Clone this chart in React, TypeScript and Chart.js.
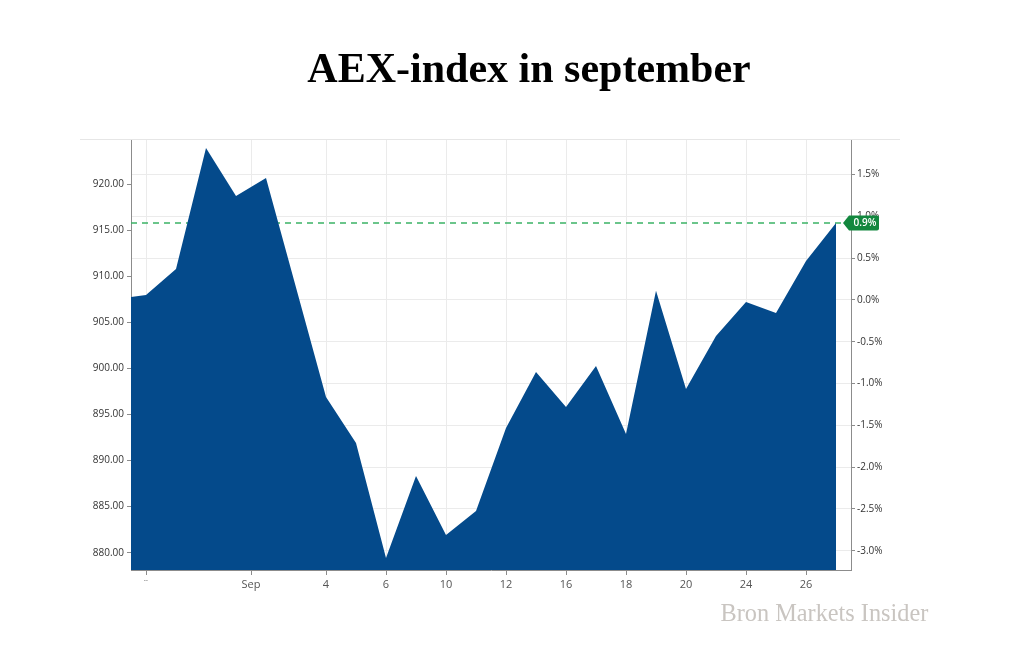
import React, { useEffect, useRef } from "react";
import { Chart, registerables } from "chart.js";

Chart.register(...registerables);

// Trading-session positions (session 5 has no visible vertex in the picture)
const sessionIndex = [-0.5, 0, 1, 2, 3, 4, 6, 7, 8, 9, 10, 11, 12, 13, 14, 15, 16, 17, 18, 19, 20, 21, 22, 23];
const closeValues = [
  907.76, 907.98, 910.8, 923.94, 918.73, 920.69, 896.91, 891.91, 879.42, 888.33, 881.92, 884.53,
  893.54, 899.62, 895.82, 900.27, 892.89, 908.44, 897.78, 903.53, 907.22, 906.03, 911.67, 915.8,
];
const previousClose = 907.44;

const xTickPositions = [0, 3.5, 6, 8, 10, 12, 14, 16, 18, 20, 22];
const xTickLabels = ["¨", "Sep", "4", "6", "10", "12", "16", "18", "20", "24", "26"];
const priceTicks = [880, 885, 890, 895, 900, 905, 910, 915, 920];
const percentTicks = [-3, -2.5, -2, -1.5, -1, -0.5, 0, 0.5, 1, 1.5];
const priceMin = 878.12;
const priceMax = 924.81;

const titleText = "AEX-index in september";
const sourceText = "Bron Markets Insider";

const AREA_COLOR = "rgb(4,74,139)";
const AXIS_COLOR = "#8c8c8c";
const GRID_COLOR = "#ebebeb";
const SANS = "'Open Sans', 'Liberation Sans', sans-serif";

const toPct = (v: number) => (v / previousClose - 1) * 100;

const overlayPlugin = {
  id: "overlay",
  beforeDraw(chart: any) {
    const ctx = chart.ctx;
    ctx.save();
    ctx.strokeStyle = "#e6e6e6";
    ctx.lineWidth = 1;
    ctx.beginPath();
    ctx.moveTo(80, chart.chartArea.top - 0.5);
    ctx.lineTo(900, chart.chartArea.top - 0.5);
    ctx.stroke();
    ctx.restore();
  },
  beforeDatasetsDraw(chart: any) {
    const ctx = chart.ctx;
    const area = chart.chartArea;
    const last = closeValues[closeValues.length - 1];
    const y = Math.round(chart.scales.y.getPixelForValue(last));
    ctx.save();
    ctx.strokeStyle = "#3bb266";
    ctx.lineWidth = 1.5;
    ctx.setLineDash([6, 5]);
    ctx.beginPath();
    ctx.moveTo(area.left, y);
    ctx.lineTo(area.right - 8, y);
    ctx.stroke();
    ctx.restore();
  },
  afterDraw(chart: any) {
    const ctx = chart.ctx;
    const area = chart.chartArea;
    const last = closeValues[closeValues.length - 1];
    const y = chart.scales.y.getPixelForValue(last);
    // badge
    const tip = area.right - 8;
    const left = tip + 6;
    const right = tip + 36;
    const top = y - 7.5;
    const bottom = y + 7.5;
    const r = 2;
    ctx.save();
    ctx.fillStyle = "#12873e";
    ctx.beginPath();
    ctx.moveTo(tip, y);
    ctx.lineTo(left, top);
    ctx.lineTo(right - r, top);
    ctx.quadraticCurveTo(right, top, right, top + r);
    ctx.lineTo(right, bottom - r);
    ctx.quadraticCurveTo(right, bottom, right - r, bottom);
    ctx.lineTo(left, bottom);
    ctx.closePath();
    ctx.fill();
    ctx.fillStyle = "#ffffff";
    ctx.font = `600 10px ${SANS}`;
    ctx.textAlign = "center";
    ctx.textBaseline = "middle";
    ctx.fillText(toPct(last).toFixed(1) + "%", (left + right) / 2 + 1, y + 0.5);
    ctx.restore();

    // title
    ctx.save();
    ctx.fillStyle = "#000000";
    ctx.font = "bold 42px 'Liberation Serif', serif";
    ctx.textAlign = "center";
    ctx.textBaseline = "alphabetic";
    ctx.fillText(titleText, 529, 82);
    // source
    ctx.fillStyle = "#c9c5c1";
    ctx.font = "24.3px 'Liberation Serif', serif";
    ctx.textAlign = "left";
    ctx.fillText(sourceText, 720.5, 621);
    ctx.restore();
  },
};

export default function App() {
  const canvasRef = useRef<HTMLCanvasElement | null>(null);

  useEffect(() => {
    if (!canvasRef.current) return;
    const chart = new Chart(canvasRef.current, {
      type: "line",
      data: {
        datasets: [
          {
            data: sessionIndex.map((x, i) => ({ x, y: closeValues[i] })),
            fill: "start",
            backgroundColor: AREA_COLOR,
            borderColor: "rgba(0,0,0,0)",
            borderWidth: 0,
            pointRadius: 0,
            tension: 0,
            yAxisID: "y",
          },
        ],
      },
      options: {
        responsive: false,
        animation: false,
        devicePixelRatio: 1,
        layout: { padding: { top: 140, left: 0, right: 0, bottom: 47 } },
        plugins: {
          legend: { display: false },
          tooltip: { enabled: false },
          title: { display: false },
        },
        scales: {
          x: {
            type: "linear",
            min: -0.5,
            max: 23.5,
            afterBuildTicks: (s: any) => {
              s.ticks = xTickPositions.map((v) => ({ value: v }));
            },
            afterFit: (s: any) => {
              s.height = 30;
            },
            ticks: {
              autoSkip: false,
              maxRotation: 0,
              padding: 3,
              color: "#555555",
              font: { family: SANS, size: 11 },
              callback: (_v: any, i: number) => xTickLabels[i],
            },
            grid: { color: GRID_COLOR, tickColor: AXIS_COLOR, tickLength: 5, drawOnChartArea: true },
            border: { color: AXIS_COLOR },
          },
          y: {
            type: "linear",
            position: "left",
            min: priceMin,
            max: priceMax,
            afterBuildTicks: (s: any) => {
              s.ticks = priceTicks.map((v) => ({ value: v }));
            },
            afterFit: (s: any) => {
              s.width = 131;
            },
            ticks: {
              autoSkip: false,
              padding: 3,
              color: "#333333",
              font: { family: SANS, size: 10 },
              callback: (v: any) => Number(v).toFixed(2),
            },
            grid: { drawOnChartArea: false, tickColor: AXIS_COLOR, tickLength: 4 },
            border: { color: AXIS_COLOR },
          },
          y2: {
            type: "linear",
            position: "right",
            min: toPct(priceMin),
            max: toPct(priceMax),
            afterBuildTicks: (s: any) => {
              s.ticks = percentTicks.map((v) => ({ value: v }));
            },
            afterFit: (s: any) => {
              s.width = 170;
            },
            ticks: {
              autoSkip: false,
              padding: 2,
              color: "#333333",
              font: { family: SANS, size: 10 },
              callback: (v: any) => Number(v).toFixed(1) + "%",
            },
            grid: { color: GRID_COLOR, tickColor: AXIS_COLOR, tickLength: 4, drawOnChartArea: true },
            border: { color: AXIS_COLOR },
          },
        },
      } as any,
      plugins: [overlayPlugin],
    });
    return () => chart.destroy();
  }, []);

  return (
    <div style={{ position: "absolute", left: 0, top: 0, width: 1021, height: 647, background: "#ffffff" }}>
      <canvas ref={canvasRef} width={1021} height={647} style={{ display: "block", width: 1021, height: 647 }} />
    </div>
  );
}
